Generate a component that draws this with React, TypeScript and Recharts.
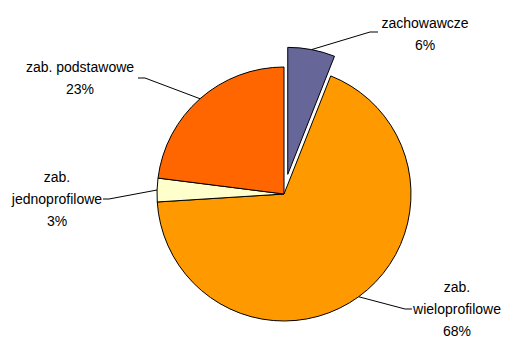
import React from "react";
import { PieChart, Pie, Cell } from "recharts";

const categories = ["zachowawcze", "zab. wieloprofilowe", "zab. jednoprofilowe", "zab. podstawowe"];
const values = [6, 68, 3, 23];
const percentLabels = ["6%", "68%", "3%", "23%"];
const labelLines = [["zachowawcze", "6%"], ["zab.", "wieloprofilowe", "68%"], ["zab.", "jednoprofilowe", "3%"], ["zab. podstawowe", "23%"]];
const colors = ["#666699", "#FF9900", "#FFFFCC", "#FF6600"];

const data = categories.map((name, i) => ({ name, value: values[i], pct: percentLabels[i] }));

// label layout: leader line elbow & end, text center & first line y
const labelLayout = [
  { elbow: [370, 32], end: [378, 32], tx: 425, ty: 28, anchor: "middle" },
  { elbow: [405, 309], end: [412, 309], tx: 457, ty: 292, anchor: "middle" },
  { elbow: [109, 199], end: [103, 199], tx: 57, ty: 182, anchor: "middle" },
  { elbow: [145, 78], end: [138, 78], tx: 80, ty: 72, anchor: "middle" },
];

const RADIAN = Math.PI / 180;
const CX = 284;
const CY = 194;
const R = 127;
const EXPLODE = 20;

const makeLabel = (show: (i: number) => boolean) => (props: any) => {
  const { cx, cy, midAngle, outerRadius, index } = props;
  if (!show(index)) return null;
  const sx = cx + outerRadius * Math.cos(-midAngle * RADIAN);
  const sy = cy + outerRadius * Math.sin(-midAngle * RADIAN);
  const L = labelLayout[index];
  const lines = labelLines[index];
  return (
    <g key={`lbl-${index}`}>
      <polyline
        points={`${sx},${sy} ${L.elbow[0]},${L.elbow[1]} ${L.end[0]},${L.end[1]}`}
        fill="none"
        stroke="#000"
        strokeWidth={1}
      />
      {lines.map((t, k) => (
        <text
          key={k}
          x={L.tx}
          y={L.ty + k * 22}
          textAnchor={L.anchor as any}
          fontFamily="'Liberation Sans', Arial, sans-serif"
          fontSize={14}
          fill="#000"
        >
          {t}
        </text>
      ))}
    </g>
  );
};

const midFrac = (values[0] / 2) / values.reduce((a, b) => a + b, 0);
const exCx = CX + EXPLODE * Math.sin(midFrac * 2 * Math.PI);
const exCy = CY - EXPLODE * Math.cos(midFrac * 2 * Math.PI);

export default function App() {
  return (
    <div style={{ position: "absolute", left: 0, top: 0, background: "#fff" }}>
      <PieChart width={505} height={338} margin={{ top: 0, right: 0, bottom: 0, left: 0 }}>
        <Pie
          data={data}
          dataKey="value"
          cx={CX}
          cy={CY}
          outerRadius={R}
          startAngle={90}
          endAngle={-270}
          isAnimationActive={false}
          label={makeLabel((i) => i !== 0)}
          labelLine={false}
        >
          {data.map((d, i) => (
            <Cell
              key={i}
              fill={i === 0 ? "transparent" : colors[i]}
              stroke={i === 0 ? "none" : "#000"}
              strokeWidth={1}
            />
          ))}
        </Pie>
        <Pie
          data={data}
          dataKey="value"
          cx={exCx}
          cy={exCy}
          outerRadius={R}
          startAngle={90}
          endAngle={-270}
          isAnimationActive={false}
          label={makeLabel((i) => i === 0)}
          labelLine={false}
        >
          {data.map((d, i) => (
            <Cell
              key={i}
              fill={i === 0 ? colors[0] : "transparent"}
              stroke={i === 0 ? "#000" : "none"}
              strokeWidth={1}
            />
          ))}
        </Pie>
      </PieChart>
    </div>
  );
}
